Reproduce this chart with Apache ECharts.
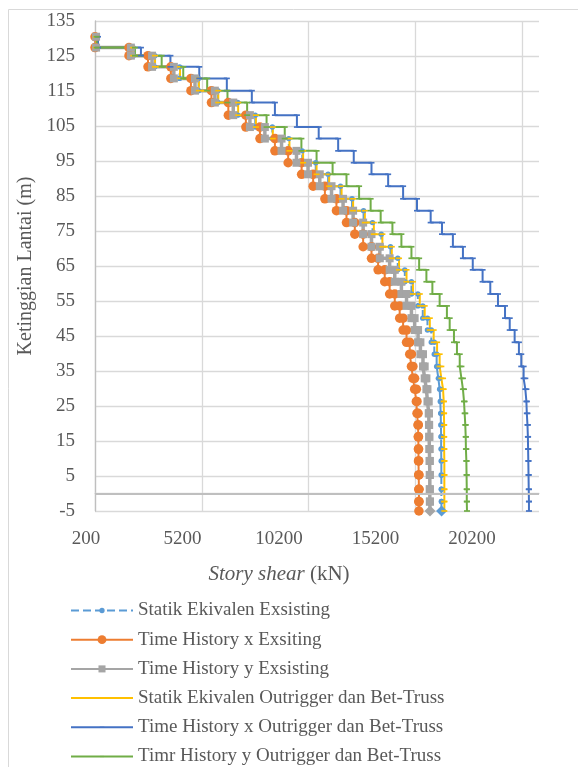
<!DOCTYPE html>
<html>
<head>
<meta charset="utf-8">
<title>Story shear</title>
<script src="https://cdn.jsdelivr.net/npm/echarts@6.0.0/dist/echarts.min.js"></script>
<style>
  html, body { margin: 0; padding: 0; background: #fff; }
  #chart { width: 578px; height: 767px; }
</style>
</head>
<body>
<div id="chart"></div>
<script>
// floor levels (m), top to bottom
const levels = [130.5, 127.4, 125.1, 121.9, 118.6, 115.1, 111.7, 108.1, 104.7, 101.4,
  97.9, 94.5, 91.2, 87.8, 84.2, 80.8, 77.4, 74.1, 70.5, 67.2,
  63.9, 60.5, 57.0, 53.6, 50.1, 46.7, 43.2, 39.8, 36.3, 32.9,
  29.8, 26.3, 22.9, 19.6, 16.2, 12.7, 9.3, 5.3, 1.2, -2.3, -5]

// story shear (kN) per storey, top to bottom
const statikExisting = [250, 1990, 3000, 4160, 5050, 5950, 6880, 7700, 8500, 9270,
  9900, 10530, 11110, 11690, 12230, 12770, 13190, 13600, 14030, 14370,
  14700, 15010, 15310, 15540, 15760, 15940, 16080, 16190, 16270, 16330,
  16360, 16380, 16390, 16400, 16400, 16410, 16410, 16410, 16410, 16420]
const thxExisting = [200, 1790, 2680, 3750, 4690, 5650, 6440, 7260, 7920, 8620,
  9240, 9870, 10410, 10960, 11500, 11970, 12360, 12750, 13140, 13450,
  13760, 13990, 14230, 14460, 14620, 14780, 14930, 15010, 15080, 15160,
  15240, 15270, 15320, 15330, 15340, 15340, 15350, 15360, 15360, 15360]
const thyExisting = [250, 1880, 2870, 3890, 4880, 5810, 6670, 7450, 8150, 8930,
  9630, 10170, 10720, 11270, 11810, 12280, 12750, 13140, 13530, 13990,
  14230, 14540, 14780, 15010, 15160, 15320, 15430, 15550, 15630, 15710,
  15760, 15820, 15830, 15840, 15850, 15860, 15870, 15870, 15870, 15880]
const statikOutrigger = [250, 1990, 3010, 4180, 5060, 5970, 6900, 7730, 8520, 9300,
  9940, 10570, 11160, 11740, 12280, 12830, 13250, 13650, 14090, 14430,
  14780, 15080, 15400, 15630, 15870, 16050, 16210, 16330, 16410, 16490,
  16520, 16530, 16540, 16540, 16540, 16550, 16550, 16550, 16550, 16550]
const thxOutrigger = [340, 2350, 3730, 5080, 6370, 7540, 8620, 9650, 10670, 11580,
  12310, 13140, 13920, 14620, 15270, 15910, 16440, 16950, 17420, 17880,
  18340, 18700, 19060, 19390, 19610, 19840, 20040, 20150, 20260, 20340,
  20390, 20410, 20440, 20460, 20470, 20480, 20490, 20500, 20510, 20510]
const thyOutrigger = [280, 2070, 3320, 4330, 5450, 6400, 7320, 8230, 9080, 9860,
  10570, 11320, 11970, 12560, 13100, 13570, 14120, 14540, 15010, 15370,
  15710, 15990, 16330, 16670, 16800, 17000, 17140, 17270, 17350, 17420,
  17470, 17500, 17530, 17550, 17560, 17580, 17590, 17600, 17600, 17610]

const seriesNames = [
  'Statik Ekivalen Exsisting',
  'Time History x Exsiting',
  'Time History y Exsisting',
  'Statik Ekivalen Outrigger dan Bet-Truss',
  'Time History x Outrigger dan Bet-Truss',
  'Timr History y Outrigger dan Bet-Truss'
]

const FONT = 'Liberation Serif'
const TEXT = '#595959'
const GRID_LINE = '#d9d9d9'

// padded marker shapes (the empty corner moves keep the legend icons small)
const DASH = 'path://M0,0L0,0M2.5,4.3H7.5V5.7H2.5ZM10,10L10,10'
const SQUARE = 'path://M0,0L0,0M1,1H9V9H1ZM10,10L10,10'
const DOT = 'path://M0,0L0,0M2,5A3,3 0 1,1 8,5A3,3 0 1,1 2,5ZM10,10L10,10'

// each storey shear is held over the storey height -> two points per storey
function stepPoints(shear, lastSymbol) {
  const pts = []
  shear.forEach((v, i) => {
    pts.push([v, levels[i]])
    pts.push([v, levels[i + 1]])
  })
  if (lastSymbol) {
    const last = pts.length - 1
    pts[last] = { value: pts[last], symbol: 'diamond', symbolSize: 11 }
  }
  return pts
}

function lineSeries(name, data, color, width, symbol, size, extra) {
  return Object.assign({
    name: name,
    type: 'line',
    xAxisIndex: 0,
    yAxisIndex: 0,
    data: data,
    symbol: symbol,
    symbolSize: size,
    showAllSymbol: true,
    color: color,
    itemStyle: { color: color },
    lineStyle: { color: color, width: width },
    emphasis: { disabled: true }
  }, extra || {})
}

const chart = echarts.init(document.getElementById('chart'))

chart.setOption({
  animation: false,
  textStyle: { fontFamily: FONT },
  graphic: [{
    type: 'rect',
    shape: { x: 8.5, y: 9.5, width: 620, height: 820 },
    style: { fill: 'none', stroke: GRID_LINE, lineWidth: 1 },
    silent: true
  }],
  grid: [
    { left: 95, right: 39, top: 21, bottom: 256 },
    { left: 86, right: 106, top: 21, bottom: 256 }
  ],
  legend: {
    orient: 'vertical',
    left: 70,
    top: 601,
    itemWidth: 62,
    itemHeight: 11,
    itemGap: 10.2,
    padding: 0,
    textStyle: { fontFamily: FONT, fontSize: 19, color: TEXT },
    data: seriesNames
  },
  xAxis: [
    {
      type: 'value',
      gridIndex: 0,
      min: 200,
      max: 20980,
      interval: 5000,
      axisLine: { show: true, lineStyle: { color: GRID_LINE, width: 1.3 } },
      axisTick: { show: false },
      axisLabel: { show: false },
      splitLine: { show: true, showMaxLine: false, lineStyle: { color: GRID_LINE, width: 1.3 } }
    },
    {
      type: 'value',
      gridIndex: 1,
      min: 200,
      max: 20200,
      interval: 5000,
      axisLine: { show: false },
      axisTick: { show: false },
      splitLine: { show: false },
      axisLabel: {
        fontFamily: FONT, fontSize: 19, color: TEXT, margin: 19,
        formatter: (v) => String(v)
      },
      name: '{i|Story shear} (kN)',
      nameLocation: 'middle',
      nameGap: 53,
      nameTextStyle: {
        fontFamily: FONT, fontSize: 21, color: TEXT,
        rich: { i: { fontFamily: FONT, fontSize: 21, color: TEXT, fontStyle: 'italic' } }
      }
    }
  ],
  yAxis: [
    {
      type: 'value',
      gridIndex: 0,
      min: -5,
      max: 135,
      interval: 10,
      axisLine: { show: true, lineStyle: { color: '#bfbfbf', width: 1.3 } },
      axisTick: { show: false },
      axisLabel: { fontFamily: FONT, fontSize: 19, color: TEXT, margin: 20 },
      splitLine: { show: true, lineStyle: { color: GRID_LINE, width: 1.3 } },
      name: 'Ketinggian Lantai (m)',
      nameLocation: 'middle',
      nameGap: 58,
      nameTextStyle: { fontFamily: FONT, fontSize: 20, color: TEXT }
    },
    { type: 'value', gridIndex: 1, min: -5, max: 135, show: false }
  ],
  series: [
    lineSeries(seriesNames[0], stepPoints(statikExisting, true), '#5B9BD5', 2, DOT, 9, {
      lineStyle: { color: '#5B9BD5', width: 2, type: [8, 4] },
      markLine: {
        silent: true,
        symbol: ['none', 'none'],
        label: { show: false },
        lineStyle: { color: '#bfbfbf', width: 2, type: 'solid' },
        data: [{ yAxis: 0 }]
      }
    }),
    lineSeries(seriesNames[1], stepPoints(thxExisting), '#ED7D31', 2, 'circle', 9.5),
    lineSeries(seriesNames[2], stepPoints(thyExisting, true), '#A5A5A5', 3.5, SQUARE, 10),
    lineSeries(seriesNames[3], stepPoints(statikOutrigger), '#FFC000', 2, DASH, 12),
    lineSeries(seriesNames[4], stepPoints(thxOutrigger), '#4472C4', 2, DASH, 12),
    lineSeries(seriesNames[5], stepPoints(thyOutrigger), '#70AD47', 2, DASH, 12)
  ]
})
</script>
</body>
</html>
